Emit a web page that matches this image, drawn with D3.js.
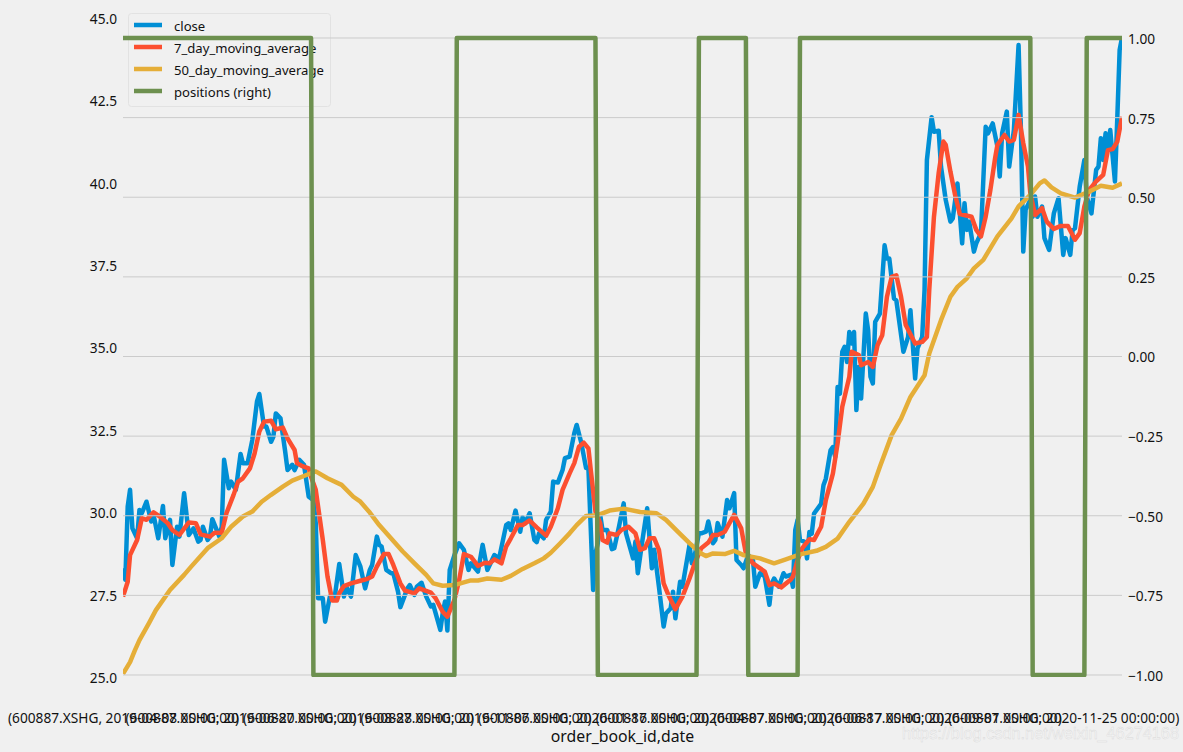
<!DOCTYPE html>
<html>
<head>
<meta charset="utf-8">
<script src="https://cdn.jsdelivr.net/npm/d3@7"></script>
<style>
  html, body { margin: 0; padding: 0; background: #f0f0f0; }
  text { font-family: "Noto Sans", sans-serif; fill: #111; }
</style>
</head>
<body>
<svg id="svgRoot"></svg>
<script>
// values as [trading day index, price]
const close = [[0,28.3],[1,27.95],[2,30.17],[3,30.68],[4,29.51],[6,29.21],[7,30.07],[8,29.97],[10,30.32],[12,29.72],[13,29.92],[15,29.21],[17,30.19],[18,29.21],[20,29.77],[21,28.4],[23,29.56],[24,29.26],[26,30.58],[28,29.31],[30,29.51],[32,29.11],[33,29.16],[34,29.56],[36,29.16],[37,29.26],[38,29.79],[41,29.26],[42,29.56],[43,31.59],[45,30.73],[46,30.93],[48,30.68],[50,31.77],[51,31.49],[53,31.49],[55,32.19],[57,33.36],[58,33.59],[60,32.6],[61,32.6],[63,32.14],[64,32.3],[65,33],[67,32.85],[69,31.84],[70,31.28],[72,31.44],[73,31.28],[75,31.59],[77,31.44],[79,30.47],[81,30.37],[82,29.67],[83,27.39],[85,27.39],[86,26.68],[88,27.44],[90,27.39],[92,28.43],[94,27.44],[95,27.74],[97,27.44],[99,28.7],[101,28.35],
  [103,27.69],[105,28.25],[106,28.4],[108,29.26],[109,29.01],[110,28.96],[112,28.25],[114,28.15],[115,28.15],[117,27.59],[118,27.12],[121,27.69],[122,27.79],[124,27.49],[125,27.74],[127,27.86],[129,27.44],[131,27.14],[132,27.19],[135,26.43],[136,26.93],[137,27.29],[138,26.41],[139,28.25],[141,28.7],[143,29.06],[145,28.86],[147,28.25],[148,28.45],[151,28.2],[153,29.01],[155,28.25],[158,28.7],[160,28.6],[163,29.61],[164,29.66],[165,29.46],[167,30.05],[169,29.41],[170,29.85],[171,29.66],[173,29.97],[175,29.16],[176,29.09],[177,29.36],[179,29.21],[180,29.77],[182,30.02],[183,30.93],[185,30.9],[187,31.28],[188,31.64],[190,31.69],[192,32.4],[193,32.65],[195,32.1],[197,31.34],[198,31.34],[200,27.64],[201,28.75],[202,29.06],
  [203,29.92],[204,29.46],[206,29.46],[208,28.88],[209,28.91],[211,29.56],[213,30.27],[214,29.36],[217,28.6],[218,29.11],[219,28.15],[221,29.16],[223,30.12],[225,28.3],[226,28.86],[228,27.74],[230,26.53],[231,26.93],[233,27.09],[234,27.59],[235,26.78],[237,27.89],[238,27.74],[241,29],[242,28.45],[243,28.6],[245,29.36],[246,29.36],[248,29.41],[249,29.72],[251,29.06],[252,29.16],[253,29.67],[255,29.26],[257,30.37],[258,30.12],[260,30.58],[261,28.55],[263,28.4],[264,28.3],[266,28.7],[268,28.55],[269,27.74],[271,28.15],[273,28.05],[275,27.19],[276,27.84],[277,27.99],[279,27.74],[281,28.15],[282,28.05],[284,28.1],[285,27.74],[286,29.46],[287,29.77],[288,29.16],
  [290,29.1],[291,28.6],[292,29.4],[293,29.35],[294,29.96],[297,30.26],[298,30.82],[299,31.02],[301,31.88],[302,31.98],[303,31.68],[304,33.8],[305,33.6],[306,34.87],[307,35.02],[308,34.56],[309,35.47],[310,35.12],[311,35.47],[312,33.1],[313,34.41],[314,33.45],[316,36.03],[317,35.52],[318,34.11],[319,33.91],[320,35.78],[322,36.03],[324,38.1],[325,37.7],[326,37.7],[328,36.49],[329,36.43],[332,34.87],[334,35.32],[335,36.13],[337,34.06],[338,34.97],[340,35.32],[341,36.75],[342,40.69],[344,41.99],[345,41.55],[347,41.58],[348,40.49],[350,39.48],[352,38.82],[353,38.92],[355,39.98],[357,38.16],[358,39.38],[359,38.57],[360,38.82],
  [362,37.91],[363,38.16],[365,38.47],[367,41.7],[368,41.5],[370,41.8],[372,41.1],[373,40.19],[374,41.5],[376,42.16],[377,40.49],[379,41.6],[381,44.18],[382,41.6],[383,37.91],[384,39.18],[386,39.48],[387,38.97],[388,39.58],[389,38.97],[391,39.28],[392,38.32],[394,37.96],[396,39.07],[398,39.53],[400,37.81],[401,38.32],[403,37.81],[404,38.57],[405,38.62],[407,39.88],[409,40.69],[410,39.58],[412,39.07],[414,40.39],[415,40.49],[416,41.35],[417,40.69],[418,41.5],[419,41],[420,41.6],[422,40.04],[423,41.96],[424,44.03],[425,44.4]];

const ma7 = [[0,27.44],[2,27.89],[3,28.7],[6,29.16],[8,29.82],[10,29.77],[13,30],[16,29.85],[19,29.67],[21,29.46],[24,29.31],[28,29.69],[31,29.67],[33,29.33],[37,29.26],[39,29.38],[42,29.38],[44,29.97],[47,30.52],[49,30.93],[51,31.03],[54,31.33],[56,31.79],[58,32.45],[60,32.75],[63,32.78],[65,32.52],[68,32.57],[70,32.24],[73,31.89],[74,31.49],[76,31.41],[79,31.33],[80,31.08],[82,30.68],[85,29.16],[87,28.05],[89,27.32],[91,27.32],[92,27.54],[94,27.76],[97,27.84],[101,27.92],
  [104,27.98],[106,28.05],[108,28.35],[111,28.73],[113,28.73],[115,28.4],[118,27.84],[120,27.62],[124,27.54],[126,27.69],[131,27.56],[133,27.39],[136,26.98],[138,26.83],[141,27.34],[143,27.94],[145,28.73],[148,28.65],[151,28.37],[154,28.47],[156,28.45],[158,28.57],[161,28.45],[163,28.96],[165,29.21],[168,29.61],[170,29.61],[173,29.75],[176,29.54],[180,29.29],[182,29.56],[185,30.12],[187,30.68],[190,31.18],[192,31.49],[194,31.99],[196,32.11],[198,31.94],[199,31.28],[201,30.02],
  [203,29.67],[204,29.16],[206,29.08],[207,29.36],[210,29.31],[212,29.46],[215,29.56],[218,29.36],[220,28.86],[222,28.91],[224,29.21],[226,29.21],[228,28.86],[230,27.84],[232,27.49],[235,27.06],[238,27.44],[241,27.99],[243,28.4],[246,28.91],[249,29.08],[251,29.31],[253,29.31],[256,29.41],[258,29.67],[260,29.92],[263,29.51],[265,28.75],[268,28.45],[273,28.2],[275,27.79],[277,27.84],[280,27.72],[284,27.95],[285,28.05],[287,28.55],[289,28.91],[292,29.18],[294,29.16],[297,29.56],
  [299,30.37],[302,31.17],[304,32.09],[306,33.2],[309,34.11],[310,34.87],[313,34.77],[314,34.46],[317,34.56],[319,34.41],[321,35.07],[323,35.37],[325,36.54],[327,37.14],[329,37.19],[331,36.54],[333,35.68],[337,35.12],[340,35.17],[342,35.32],[343,36.75],[345,38.97],[347,40.29],[349,41.25],[350,41.15],[352,40.34],[354,39.63],[356,39.05],[361,38.97],[363,38.57],[365,38.37],[367,38.97],[369,39.78],[371,40.74],[372,41.15],[375,41.45],[377,41.25],[379,41.3],[381,42.06],[383,41.2],[385,40.49],[386,39.68],[388,39.02],[391,39.23],[393,38.82],[396,38.6],[399,38.69],[402,38.69],[405,38.27],[407,38.47],[409,39.28],[411,39.78],[414,40.04],[417,40.24],[419,40.99],[421,41.02],[423,41.25],[425,42]];

const ma50 = [[0,25.1],[3,25.45],[5,25.8],[7,26.12],[11,26.63],[14,27.03],[20,27.64],[26,28.1],[29,28.35],[36,28.91],[42,29.21],[46,29.56],[51,29.87],[55,30.02],[59,30.32],[63,30.53],[68,30.78],[72,30.96],[78,31.13],[82,31.24],[87,31.03],[93,30.83],[98,30.47],[101,30.32],
  [105,29.99],[109,29.61],[114,29.21],[119,28.81],[124,28.45],[129,28.1],[132,27.84],[136,27.77],[141,27.79],[145,27.87],[148,27.93],[151,27.93],[155,27.99],[161,27.95],[165,28.07],[170,28.28],[175,28.45],[179,28.6],[182,28.77],[186,29.06],[190,29.36],[193,29.61],[197,29.89],[202,29.91],
  [207,30.05],[213,30.11],[220,30.01],[227,29.97],[231,29.77],[236,29.41],[241,29.06],[246,28.75],[248,28.67],[251,28.75],[256,28.73],[260,28.83],[264,28.7],[271,28.6],[277,28.45],[282,28.57],[288,28.72],[295,28.83],[299,28.95],
  [304,29.2],[309,29.71],[315,30.26],[319,30.77],[322,31.38],[327,32.34],[331,32.84],[335,33.5],[341,34.16],[343,34.82],[348,35.83],[352,36.54],[355,36.84],[359,37.1],[362,37.4],[366,37.66],[372,38.37],[378,38.92],[381,39.28],[386,39.63],[390,39.98],[392,40.07],[395,39.86],[399,39.68],[405,39.55],[411,39.73],[416,39.91],[421,39.85],[425,39.98]];

// positions flip between long and short, one day apart
const positions = [[0,1],[80,1],[81,-1],[141,-1],[142,1],[201,1],[202,-1],[244,-1],[245,1],[265,1],[266,-1],[287,-1],[288,1],[386,1],[387,-1],[409,-1],[410,1],[425,1]];

const leftTicks = [25, 27.5, 30, 32.5, 35, 37.5, 40, 42.5, 45];
const rightTicks = [-1, -0.75, -0.5, -0.25, 0, 0.25, 0.5, 0.75, 1];
const xTickDays = [0, 50, 100, 150, 200, 250, 300, 350, 400];
const xTickDates = ["2019-04-08", "2019-06-20", "2019-08-28", "2019-11-06", "2020-01-16", "2020-04-07", "2020-06-17", "2020-09-01", "2020-11-25"];
const legendNames = ["close", "7_day_moving_average", "50_day_moving_average", "positions (right)"];
const colors = ["#008fd5", "#fc4f30", "#e5ae38", "#6d904f"];

const W = 1183, H = 752;
const margin = { top: 18, right: 61, bottom: 75, left: 123 };

const svg = d3.select("#svgRoot").attr("width", W).attr("height", H).style("display", "block");

svg.append("clipPath").attr("id", "plotClip").append("rect")
  .attr("x", margin.left).attr("y", margin.top)
  .attr("width", W - margin.left - margin.right)
  .attr("height", H - margin.top - margin.bottom);

const x = d3.scaleLinear().domain([0, 425]).range([margin.left, W - margin.right]);
const yLeft = d3.scaleLinear().domain([25, 45]).range([H - margin.bottom, margin.top]);
const yRight = d3.scaleLinear().domain([-1, 1]).range([675, 38]);

const lineLeft = d3.line().x(d => x(d[0])).y(d => yLeft(d[1])).curve(d3.curveLinear);
const lineRight = d3.line().x(d => x(d[0])).y(d => yRight(d[1]));

// left axis lines first, the right axis (grid + positions) sits on top of them
[close, ma7, ma50].forEach((s, i) => {
  svg.append("path").attr("d", lineLeft(s))
    .attr("fill", "none").attr("stroke", colors[i]).attr("stroke-width", 4.5)
    .attr("stroke-linejoin", "round").attr("clip-path", "url(#plotClip)");
});

// legend
const legend = svg.append("g");
legend.append("rect").attr("x", 128.5).attr("y", 13.5).attr("width", 202).attr("height", 93).attr("rx", 3)
  .attr("fill", "#f0f0f0").attr("fill-opacity", 0.8).attr("stroke", "#e2e2e2");
legendNames.forEach((name, i) => {
  const ly = 25 + i * 22;
  legend.append("line").attr("x1", 134).attr("x2", 162).attr("y1", ly).attr("y2", ly)
    .attr("stroke", colors[i]).attr("stroke-width", 4.5);
  legend.append("text").attr("x", 174).attr("y", ly + 6).style("font-size", "13.1px").text(name);
});

// grid from the right axis
svg.append("g").selectAll("line").data(rightTicks).enter().append("line")
  .attr("x1", margin.left).attr("x2", W - margin.right)
  .attr("y1", d => yRight(d)).attr("y2", d => yRight(d))
  .attr("stroke", "#cbcbcb").attr("stroke-width", 1);

svg.append("path").attr("d", lineRight(positions))
  .attr("fill", "none").attr("stroke", colors[3]).attr("stroke-width", 4.5)
  .attr("stroke-linejoin", "round").attr("stroke-linecap", "square").attr("clip-path", "url(#plotClip)");

// axes
const axisL = svg.append("g").attr("transform", `translate(${margin.left},1)`)
  .call(d3.axisLeft(yLeft).tickValues(leftTicks).tickFormat(d3.format(".1f")).tickSize(0).tickPadding(6));
const axisR = svg.append("g").attr("transform", `translate(${W - margin.right},1)`)
  .call(d3.axisRight(yRight).tickValues(rightTicks).tickFormat(d3.format(".2f")).tickSize(0).tickPadding(6));
const axisB = svg.append("g").attr("transform", `translate(0,${H - margin.bottom + 30})`)
  .call(d3.axisBottom(x).tickValues(xTickDays)
    .tickFormat((d, i) => `(600887.XSHG, ${xTickDates[i]} 00:00:00)`).tickSize(0).tickPadding(6));
[axisL, axisR, axisB].forEach(a => {
  a.select(".domain").remove();
  a.selectAll("text").style("font-size", "13.7px").style("font-family", '"Noto Sans", sans-serif').attr("fill", "#111");
});
axisL.selectAll("text").attr("dy", "0.32em");
axisR.selectAll("text").attr("dy", "0.32em");

svg.append("text").attr("x", 622.5).attr("y", 742).attr("text-anchor", "middle")
  .style("font-size", "15.8px").text("order_book_id,date");

// watermark
svg.append("text").attr("x", 902).attr("y", 739)
  .style("font-family", '"Liberation Sans", sans-serif').style("font-size", "16.3px")
  .style("fill", "#f6f6f6").style("stroke", "#d8d8d8").style("stroke-width", 0.4)
  .text("https://blog.csdn.net/weixin_46274168");
</script>
</body>
</html>
